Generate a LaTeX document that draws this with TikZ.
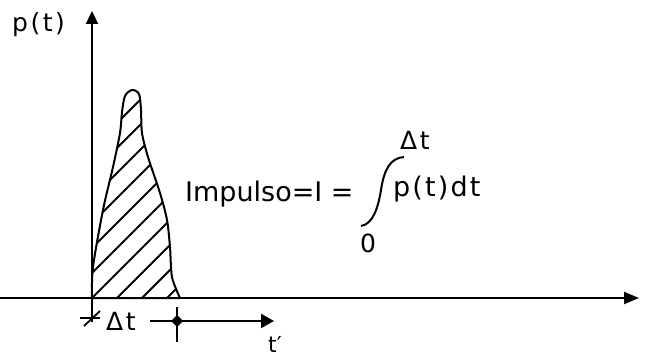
\documentclass[tikz,border=0pt]{standalone}
\usepackage{fontspec}
\setmainfont{DejaVu Sans}
\usetikzlibrary{arrows.meta}
\begin{document}
\begin{tikzpicture}[x=1pt,y=-1pt,
  axis/.style={line width=2.3pt},
  hatch/.style={line width=1.8pt},
  lbl/.style={inner sep=0pt,font=\fontsize{27}{30}\selectfont},
  wide/.style={inner sep=0pt,font=\fontsize{27}{30}\selectfont\addfontfeature{LetterSpace=8}},
  small/.style={inner sep=0pt,font=\fontsize{25}{28}\selectfont\addfontfeature{LetterSpace=10}}]
\useasboundingbox (0,0) rectangle (648,358);
% axes
\coordinate (O) at (92,298);
\coordinate (ytop) at (92,11);
\coordinate (ybot) at (92,322);
\coordinate (xl) at (0,298);
\coordinate (xr) at (639,298);
\draw[axis,-{Triangle[length=13pt,width=12pt]}] (ybot) -- (ytop);
\draw[axis,-{Triangle[length=15pt,width=12pt]}] (xl) -- (xr);
% pulse
\def\pulse{plot[smooth,tension=0.5] coordinates{(92,298) (93,267) (103,210) (113,167) (120,133) (122,112) (125,96) (132,90) (139,94) (141,110) (142,133) (148,157) (160,193) (167,220) (170,247) (172,277) (180,298)} -- cycle}
\begin{scope}
  \clip \pulse;
  \foreach \a in {-258,-233,...,180}{
    \draw[hatch] (\a,298) -- ++(260,-260);
  }
\end{scope}
\draw[line width=2pt,line join=round] \pulse;
% labels
\node[small,anchor=west] (pt) at (12,25) {p(t)};
\node[lbl,anchor=base west] (imp) at (185,202) {Impulso=I =};
\coordinate (ib) at (361,226);
\coordinate (it) at (404,157);
\draw[line width=2pt] (ib) .. controls (373,224) and (378,208) .. (381,190) .. controls (384,170) and (390,158) .. (it);
\node[small,anchor=west] (up) at (400,140) {Δt};
\node[wide,anchor=base west] (int) at (393,197) {p(t)dt};
\node[small] (lo) at (368,243) {0};
% bottom dimension
\coordinate (d1) at (80,318);
\coordinate (d2) at (100,318);
\draw[line width=1.8pt] (d1) -- (d2);
\draw[line width=1.8pt] (84,326) -- (100,311);
\node[small,anchor=west] (dt) at (106,321) {Δt};
\coordinate (tl) at (150,321);
\coordinate (tk) at (177,321);
\coordinate (tr) at (274,321);
\draw[line width=2.2pt,-{Triangle[length=13pt,width=14pt]}] (tl) -- (tr);
\draw[line width=2.2pt] (177,307) -- (177,342);
\fill (tk) ++(-6,0) -- ++(6,-6) -- ++(6,6) -- ++(-6,6) -- cycle;
\node[inner sep=0pt,font=\fontsize{22}{24}\selectfont,anchor=base] (tp) at (275,352) {t′};
\end{tikzpicture}
\end{document}
